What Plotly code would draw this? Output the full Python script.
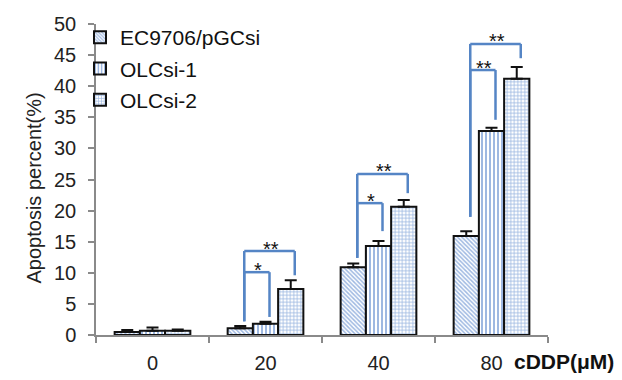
import plotly.graph_objects as go

# ---------------- data ----------------
categories = ["0", "20", "40", "80"]
series_names = ["EC9706/pGCsi", "OLCsi-1", "OLCsi-2"]
ec9706_vals = [0.5, 1.1, 10.9, 15.9]
ec9706_err = [0.3, 0.35, 0.6, 0.8]
olcsi1_vals = [0.7, 1.8, 14.3, 32.8]
olcsi1_err = [0.5, 0.35, 0.8, 0.5]
olcsi2_vals = [0.7, 7.4, 20.6, 41.2]
olcsi2_err = [0.2, 1.4, 1.1, 1.9]

# significance brackets: group index, from series, to series, top level, left foot, right foot, label
bracket_group = [1, 1, 2, 2, 3, 3]
bracket_from = [0, 0, 0, 0, 0, 0]
bracket_to = [1, 2, 1, 2, 1, 2]
bracket_top = [10.1, 13.5, 21.2, 25.9, 42.6, 46.8]
bracket_left_foot = [2.2, 2.2, 12.4, 12.4, 19.0, 19.0]
bracket_right_foot = [2.9, 9.6, 16.7, 22.8, 34.6, 44.5]
bracket_label = ["*", "**", "*", "**", "**", "**"]

y_ticks = [0, 5, 10, 15, 20, 25, 30, 35, 40, 45, 50]

# ---------------- style ----------------
FONT = "Liberation Sans, Arial, sans-serif"
BLUE = "#3d72c4"
AXIS = "#8a8a8a"
# page body has an 8px margin, so the figure is drawn 8px smaller and shifted
OFF = 8
W, H = 622 - OFF, 380 - OFF
ML, MT = 96 - OFF, 24 - OFF
plot_w = 452
plot_h = 311
MR = W - ML - plot_w
MB = H - MT - plot_h
BARGAP = 0.33
YMAX = 50.0
px_x = len(categories) / plot_w      # category units per pixel
px_y = YMAX / plot_h                 # data units per pixel

patterns = ["\\", "|", "+"]
sizes = [3, 4, 3.5]
solid = [0.5, 0.5, 0.42]
vals = [ec9706_vals, olcsi1_vals, olcsi2_vals]
errs = [ec9706_err, olcsi1_err, olcsi2_err]

fig = go.Figure()
for i, name in enumerate(series_names):
    fig.add_trace(go.Bar(
        x=categories, y=vals[i], name=name, legendgroup=name,
        marker=dict(color="white", line=dict(color="#111111", width=2),
                    pattern=dict(shape=patterns[i], fgcolor=BLUE, bgcolor="white",
                                 size=sizes[i], solidity=solid[i])),
        error_y=dict(type="data", array=errs[i], arrayminus=[0] * len(errs[i]),
                     symmetric=False, color="#111111", thickness=2, width=6),
    ))

bar_w = (1 - BARGAP) / len(series_names)


def bar_center(g, s):
    return g + (s - (len(series_names) - 1) / 2) * bar_w


shapes = []
annotations = []
line_style = dict(color="#5585c5", width=2.5)
off = 4 * px_x
for g, a, b, top, lf, rf, lab in zip(bracket_group, bracket_from, bracket_to, bracket_top,
                                      bracket_left_foot, bracket_right_foot, bracket_label):
    xl = bar_center(g, a) + off
    xr = bar_center(g, b) + off
    shapes.append(dict(type="line", xref="x", yref="y", x0=xl, x1=xl, y0=lf, y1=top, line=line_style))
    shapes.append(dict(type="line", xref="x", yref="y", x0=xl, x1=xr, y0=top, y1=top, line=line_style))
    shapes.append(dict(type="line", xref="x", yref="y", x0=xr, x1=xr, y0=top, y1=rf, line=line_style))
    annotations.append(dict(xref="x", yref="y", x=(xl + xr) / 2 + 1 * px_x, y=top + 2.5 * px_y,
                            text=lab, showarrow=False, xanchor="center", yanchor="middle",
                            font=dict(family=FONT, size=20, color="#111111")))

annotations.append(dict(xref="paper", yref="paper", x=(34 - 96) / plot_w, y=0.5 - 9 / plot_h,
                        text="Apoptosis percent(%)", textangle=-90, showarrow=False,
                        xanchor="center", yanchor="middle",
                        font=dict(family=FONT, size=20, color="#222222")))
annotations.append(dict(xref="paper", yref="paper", x=(512 - 96) / plot_w, y=-(361 - 335) / plot_h,
                        text="<b>cDDP(μM)</b>", showarrow=False, xanchor="left", yanchor="middle",
                        font=dict(family=FONT, size=21, color="#111111")))

fig.update_layout(
    width=W, height=H,
    margin=dict(l=ML, r=MR, t=MT, b=MB, autoexpand=False),
    paper_bgcolor="white", plot_bgcolor="white",
    barmode="group", bargap=BARGAP, bargroupgap=0,
    font=dict(family=FONT, color="#222222"),
    showlegend=True,
    legend=dict(x=(80 - 96) / plot_w, y=1 + (24 - 17) / plot_h, xanchor="left", yanchor="top",
                font=dict(family=FONT, size=21, color="#111111"),
                bgcolor="rgba(0,0,0,0)", tracegroupgap=1),
    shapes=shapes, annotations=annotations,
    xaxis=dict(type="category", showline=True, linecolor=AXIS, linewidth=1.5,
               ticks="outside", tickson="boundaries", ticklen=6, tickcolor=AXIS, tickwidth=1.5,
               showgrid=False, zeroline=False, ticklabelstandoff=9,
               tickfont=dict(family=FONT, size=20, color="#222222")),
    yaxis=dict(range=[0, YMAX], tickvals=y_ticks, showline=True, linecolor=AXIS, linewidth=1.5,
               ticks="outside", ticklen=6, tickcolor=AXIS, tickwidth=1.5,
               showgrid=False, zeroline=False, ticklabelstandoff=8,
               tickfont=dict(family=FONT, size=20, color="#222222")),
)

fig.write_html("out.html")
